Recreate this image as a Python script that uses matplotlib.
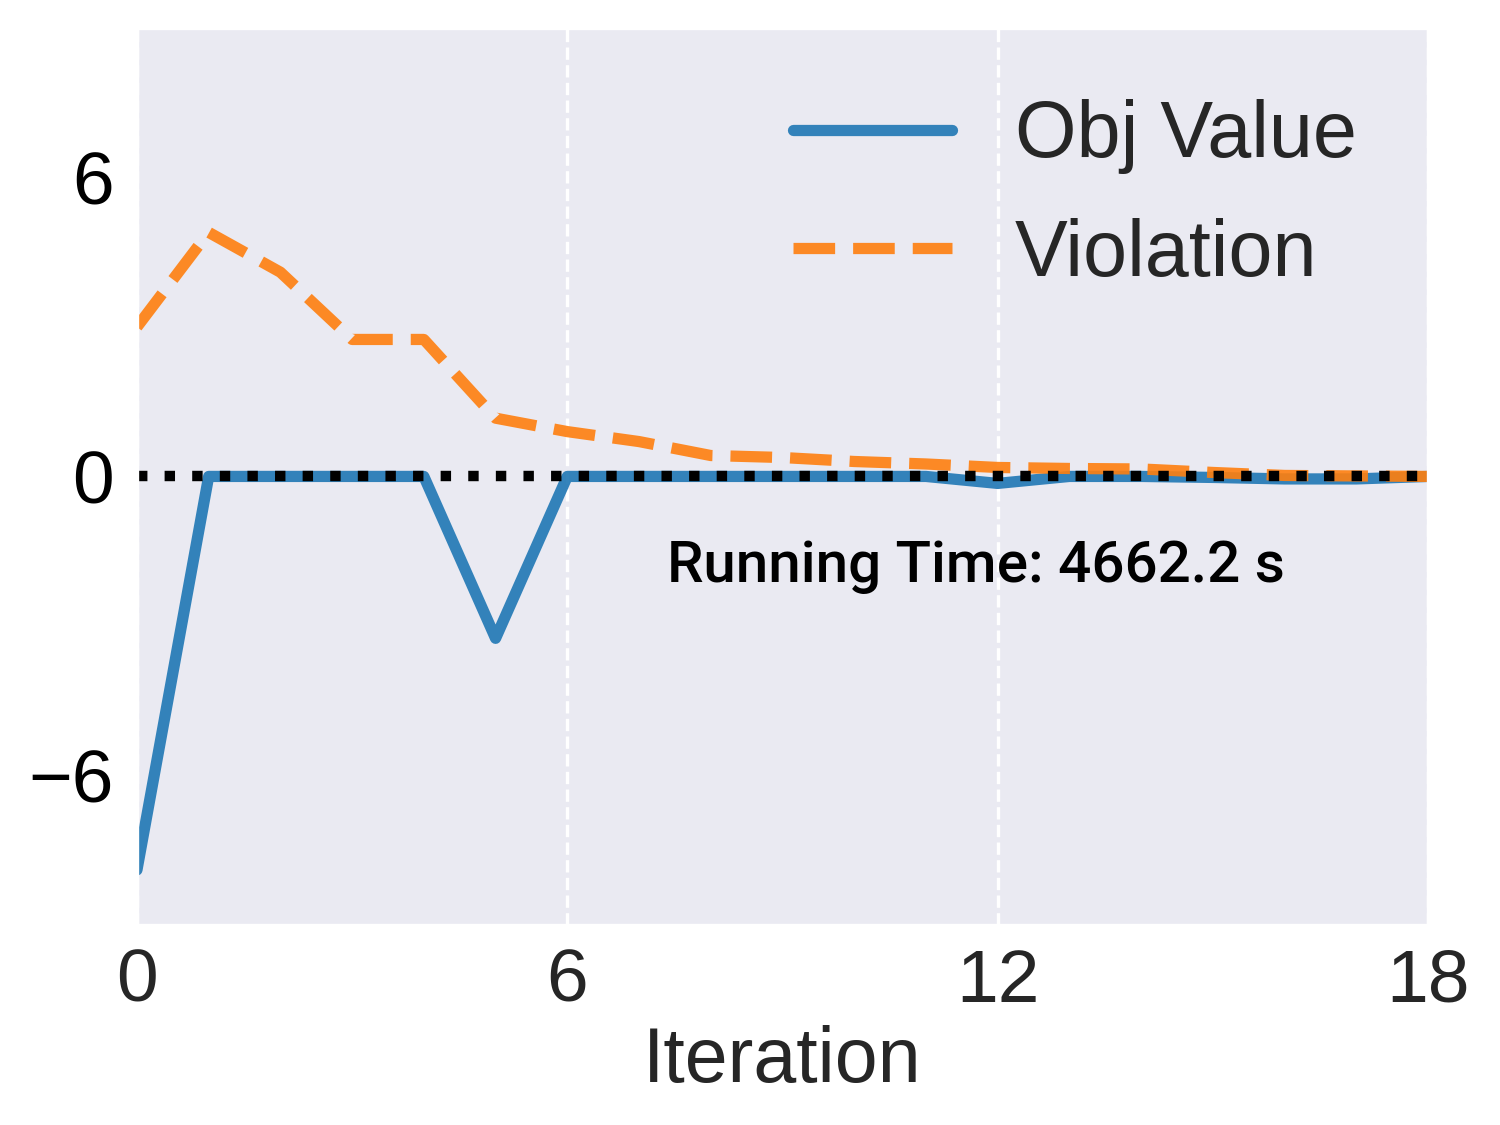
import numpy as np
import matplotlib
matplotlib.use('Agg')
import matplotlib.pyplot as plt
import seaborn as sns

sns.set_style('darkgrid')
plt.rcParams['font.family'] = ['Liberation Sans', 'DejaVu Sans']

# data
iteration = np.arange(19)
obj_value = [-7.9, 0.0, 0.0, 0.0, 0.0, -3.25, 0.0, 0.0, 0.0, 0.0,
             0.0, 0.0, -0.14, 0.0, 0.0, -0.02, -0.05, -0.05, 0.0]
violation = [3.0, 4.9, 4.1, 2.75, 2.75, 1.17, 0.9, 0.7, 0.42, 0.38,
             0.3, 0.25, 0.18, 0.16, 0.15, 0.08, 0.02, 0.01, 0.0]
x_ticks = [0, 6, 12, 18]
y_ticks = [-6, 0, 6]
run_time = 4662.2

fig, ax = plt.subplots(figsize=(5, 3.75), dpi=300)
fig.subplots_adjust(left=0.0913, right=0.952, top=0.975, bottom=0.178)

ax.plot(iteration, obj_value, color='tab:blue', alpha=0.9, lw=2.7, label='Obj Value')
ax.plot(iteration, violation, color='tab:orange', alpha=0.9, lw=2.7, ls='--', label='Violation')
ax.axhline(0, color='black', lw=2.5, ls=':')

ax.set_xlim(0, 18)
ax.set_ylim(-9, 9)
ax.set_xticks(x_ticks)
ax.set_yticks(y_ticks)
ax.grid(False)
ax.grid(axis='x', color='white', ls='--', lw=0.8)
ax.tick_params(axis='x', labelsize=18, pad=2)
ax.tick_params(axis='y', labelsize=18, labelcolor='black', pad=2)
ax.set_xlabel('Iteration', fontsize=18.5, labelpad=2)

ax.text(11.7, -1.8, 'Running Time: %.1f s' % run_time, fontsize=14,
        family=['Roboto', 'DejaVu Sans'], weight='medium', color='black',
        ha='center', va='center')

ax.legend(loc='upper right', fontsize=19, frameon=False, labelspacing=0.55,
          borderaxespad=0.5)

fig.savefig('out.png', dpi=300)
